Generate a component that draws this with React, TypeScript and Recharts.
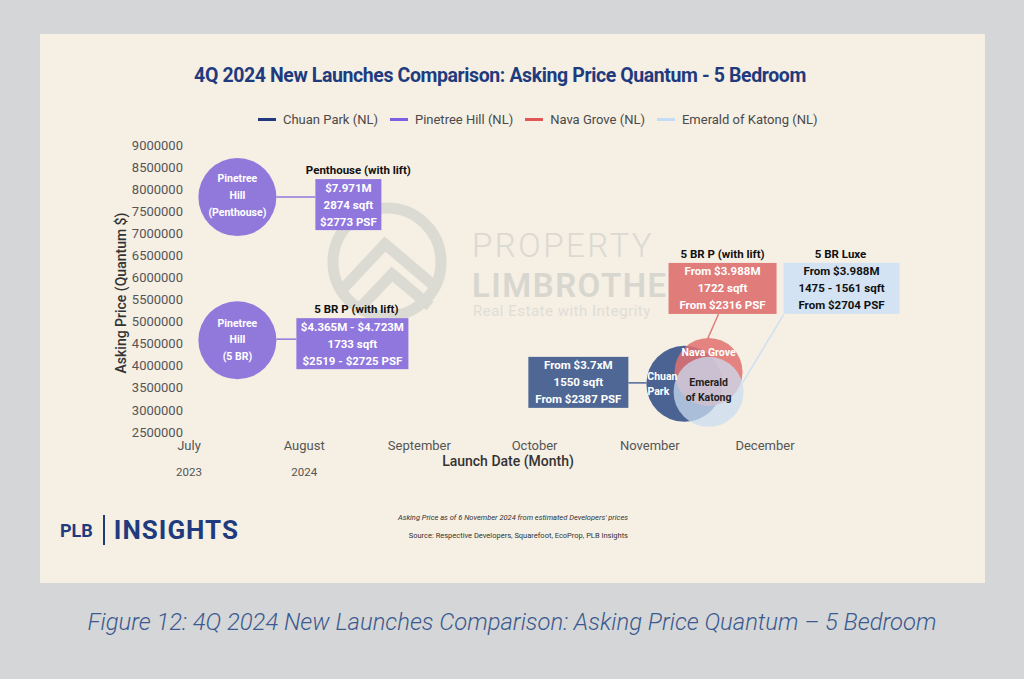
import React from "react";
import { ScatterChart, Scatter, XAxis, YAxis } from "recharts";

// --- data ---
const MONTHS = ["July", "August", "September", "October", "November", "December"];
const YEARS = ["2023", "2024", "", "", "", ""];
const X_TICKS = [0, 1, 2, 3, 4, 5];
const Y_TICKS = [
  2500000, 3000000, 3500000, 4000000, 4500000, 5000000, 5500000,
  6000000, 6500000, 7000000, 7500000, 8000000, 8500000, 9000000,
];

// x = months after July (category index), y = asking price quantum
const pinetreePenthouse = [{ x: 0.42, y: 7820000 }];
const pinetree5br = [{ x: 0.42, y: 4580000 }];
const chuanPark = [{ x: 4.3, y: 3590000 }];
const navaGrove = [{ x: 4.51, y: 3860000 }];
const emeraldKatong = [{ x: 4.51, y: 3410000 }];

const PH_LINES = ["$7.971M", "2874 sqft", "$2773 PSF"];
const BR5_LINES = ["$4.365M - $4.723M", "1733 sqft", "$2519 - $2725 PSF"];
const CHUAN_LINES = ["From $3.7xM", "1550 sqft", "From $2387 PSF"];
const NAVA_LINES = ["From $3.988M", "1722 sqft", "From $2316 PSF"];
const EMERALD_LINES = ["From $3.988M", "1475 - 1561 sqft", "From $2704 PSF"];

const LEGEND = [
  { name: "Chuan Park (NL)", color: "#1f3b7e" },
  { name: "Pinetree Hill (NL)", color: "#7c5fe3" },
  { name: "Nava Grove (NL)", color: "#e05656" },
  { name: "Emerald of Katong (NL)", color: "#c6dcf6" },
];

const PURPLE = "#9179dc";
const NAVY = "#1f3b7e";
const FONT = "Roboto, 'Noto Sans', sans-serif";

const bubble = (fill: string, r: number, opacity = 1) => (p: any) => (
  <circle cx={p.cx} cy={p.cy} r={r} fill={fill} fillOpacity={opacity} />
);

type CalloutCfg = {
  box: [number, number, number, number]; // dx, dy, w, h
  fill: string;
  color: string;
  lines: string[];
  title?: [string, number, number];
  link: [number, number, number, number];
  linkColor: string;
  labels: [string, number, number, string][];
};

const callout = (c: CalloutCfg) => (p: any) => {
  const { cx, cy } = p;
  const [bx, by, bw, bh] = c.box;
  const mid = cy + by + bh / 2;
  return (
    <g fontFamily={FONT}>
      <line
        x1={cx + c.link[0]} y1={cy + c.link[1]} x2={cx + c.link[2]} y2={cy + c.link[3]}
        stroke={c.linkColor} strokeWidth={1.5}
      />
      <rect x={cx + bx} y={cy + by} width={bw} height={bh} fill={c.fill} />
      {c.lines.map((t, i) => (
        <text
          key={i} x={cx + bx + bw / 2} y={mid + (i - 1) * 17}
          textAnchor="middle" dominantBaseline="central"
          fontSize={11.5} fontWeight={700} fill={c.color}
        >
          {t}
        </text>
      ))}
      {c.title && (
        <text
          x={cx + c.title[1]} y={cy + c.title[2]} textAnchor="middle" dominantBaseline="central"
          fontSize={11.5} fontWeight={700} fill="#111"
        >
          {c.title[0]}
        </text>
      )}
      {c.labels.map(([t, dx, dy, col], i) => (
        <text
          key={"l" + i} x={cx + dx} y={cy + dy} textAnchor="middle" dominantBaseline="central"
          fontSize={10.5} fontWeight={700} fill={col}
        >
          {t}
        </text>
      ))}
    </g>
  );
};

const MonthTick = (p: any) => {
  const i = p.payload.value as number;
  return (
    <g fontFamily={FONT} fontSize={13} fill="#555">
      <text x={p.x} y={p.y + 13} textAnchor="middle" dominantBaseline="central">{MONTHS[i]}</text>
      <text x={p.x} y={p.y + 40} textAnchor="middle" dominantBaseline="central" fontSize={11.5}>
        {YEARS[i]}
      </text>
    </g>
  );
};

const Watermark = () => (
  <svg width={945} height={549} style={{ position: "absolute", left: 0, top: 0 }}>
    <defs>
      <clipPath id="wm-clip">
        <rect x={0} y={0} width={628} height={549} />
      </clipPath>
    </defs>
    <g opacity={0.85} clipPath="url(#wm-clip)">
      <circle cx={347} cy={228} r={54} fill="none" stroke="#d8d8d1" strokeWidth={11} />
      <path d="M300 258 L345 210 L392 250" fill="none" stroke="#d8d8d1" strokeWidth={11} />
      <path d="M318 276 L352 240 L390 272" fill="none" stroke="#d8d8d1" strokeWidth={11} />
      <text x={432} y={211} fontFamily={FONT} fontSize={33} fontWeight={300} fill="#d6d6cf" dominantBaseline="central" letterSpacing={2.5}>
        PROPERTY
      </text>
      <text x={432} y={251} fontFamily={FONT} fontSize={33} fontWeight={600} fill="#d3d3cc" dominantBaseline="central" letterSpacing={1.5}>
        LIMBROTHE
      </text>
      <text x={433} y={277} fontFamily={FONT} fontSize={15} fill="#dcdcd4" dominantBaseline="central" letterSpacing={0.5}>
        Real Estate with Integrity
      </text>
    </g>
  </svg>
);

export default function App() {
  return (
    <div style={{ position: "absolute", left: 0, top: 0, width: 1024, height: 679, background: "#d5d6d8", fontFamily: FONT }}>
      <div style={{ position: "absolute", left: 40, top: 34, width: 945, height: 549, background: "#f5efe4" }}>
        <Watermark />

        <div style={{ position: "absolute", left: 110, top: 30, width: 700, textAlign: "center", color: NAVY, fontSize: 19.5, fontWeight: 700, letterSpacing: -0.4 }}>
          4Q 2024 New Launches Comparison: Asking Price Quantum - 5 Bedroom
        </div>

        <div style={{ position: "absolute", left: 218, top: 78, display: "flex", alignItems: "center", fontSize: 13, color: "#4a4a4a" }}>
          {LEGEND.map((l) => (
            <div key={l.name} style={{ display: "flex", alignItems: "center", marginRight: 12 }}>
              <span style={{ display: "inline-block", width: 18, height: 3, background: l.color, marginRight: 7 }} />
              {l.name}
            </div>
          ))}
        </div>

        <div style={{ position: "absolute", left: 0, top: 0 }}>
          <ScatterChart width={945} height={549} margin={{ top: 111, right: 220, bottom: 121, left: 69 }}>
            <XAxis
              type="number" dataKey="x" domain={[0, 5]} ticks={X_TICKS} interval={0}
              axisLine={false} tickLine={false} tickSize={0} tickMargin={0} height={30}
              tick={<MonthTick />}
            />
            <YAxis
              type="number" dataKey="y" domain={[2500000, 9000000]} ticks={Y_TICKS} interval={0}
              axisLine={false} tickLine={false} tickSize={4} tickMargin={2} width={80}
              tick={{ fontSize: 13, fill: "#555", fontFamily: FONT }}
            />
            <Scatter data={pinetreePenthouse} shape={bubble(PURPLE, 39)} isAnimationActive={false} />
            <Scatter data={pinetree5br} shape={bubble(PURPLE, 39)} isAnimationActive={false} />
            <Scatter data={chuanPark} shape={bubble("#4b6392", 38)} isAnimationActive={false} />
            <Scatter data={navaGrove} shape={bubble("#e27070", 34, 0.85)} isAnimationActive={false} />
            <Scatter data={emeraldKatong} shape={bubble("#cadcf0", 35, 0.75)} isAnimationActive={false} />

            <Scatter
              data={pinetreePenthouse} isAnimationActive={false}
              shape={callout({
                box: [78, -18, 66, 51], fill: "#8f77dd", color: "#fff", lines: PH_LINES,
                title: ["Penthouse (with lift)", 121, -27], link: [39, 0, 78, 0], linkColor: PURPLE,
                labels: [["Pinetree", 0, -19, "#fff"], ["Hill", 0, -2, "#fff"], ["(Penthouse)", 0, 15, "#fff"]],
              })}
            />
            <Scatter
              data={pinetree5br} isAnimationActive={false}
              shape={callout({
                box: [59, -22, 112, 51], fill: "#8f77dd", color: "#fff", lines: BR5_LINES,
                title: ["5 BR P (with lift)", 119, -31], link: [39, -1, 59, -1], linkColor: PURPLE,
                labels: [["Pinetree", 0, -17, "#fff"], ["Hill", 0, -1, "#fff"], ["(5 BR)", 0, 16, "#fff"]],
              })}
            />
            <Scatter
              data={chuanPark} isAnimationActive={false}
              shape={callout({
                box: [-156, -27, 100, 51], fill: "#4e6795", color: "#fff", lines: CHUAN_LINES,
                link: [-56, -1, -38, -1], linkColor: "#4e6795",
                labels: [["Chuan", -22, -7, "#fff"], ["Park", -26, 8, "#fff"]],
              })}
            />
            <Scatter
              data={navaGrove} isAnimationActive={false}
              shape={callout({
                box: [-40, -109, 108, 51], fill: "#e07c79", color: "#fff", lines: NAVA_LINES,
                title: ["5 BR P (with lift)", 14, -118], link: [10, -58, -1, -33], linkColor: "#e07c79",
                labels: [["Nava Grove", 0, -19, "#fff"]],
              })}
            />
            <Scatter
              data={emeraldKatong} isAnimationActive={false}
              shape={callout({
                box: [75, -129, 116, 51], fill: "#d3e3f3", color: "#111", lines: EMERALD_LINES,
                title: ["5 BR Luxe", 132, -138], link: [75, -77, 34, -9], linkColor: "#cfe0f2",
                labels: [["Emerald", 0, -9, "#222"], ["of Katong", 0, 6, "#222"]],
              })}
            />
          </ScatterChart>
        </div>

        <div style={{ position: "absolute", left: 81, top: 261, width: 0, height: 0 }}>
          <div style={{ position: "absolute", left: -90, top: -10, width: 180, textAlign: "center", transform: "rotate(-90deg)", fontSize: 14, color: "#333", fontWeight: 500 }}>
            Asking Price (Quantum $)
          </div>
        </div>
        <div style={{ position: "absolute", left: 368, top: 419, width: 200, textAlign: "center", fontSize: 14, color: "#333", fontWeight: 500 }}>
          Launch Date (Month)
        </div>

        <div style={{ position: "absolute", left: 20, top: 481, display: "flex", alignItems: "center", color: NAVY, fontWeight: 700 }}>
          <span style={{ fontSize: 18 }}>PLB</span>
          <span style={{ display: "inline-block", width: 2, height: 30, background: NAVY, margin: "0 9px 0 10px" }} />
          <span style={{ fontSize: 26, letterSpacing: 1 }}>INSIGHTS</span>
        </div>
        <div style={{ position: "absolute", left: 288, top: 475, width: 300, textAlign: "right", fontSize: 7.5, fontStyle: "italic", color: "#333", lineHeight: "18px" }}>
          Asking Price as of 6 November 2024 from estimated Developers' prices
          <div style={{ fontStyle: "normal" }}>Source: Respective Developers, Squarefoot, EcoProp, PLB Insights</div>
        </div>
      </div>

      <div style={{ position: "absolute", left: 0, top: 608, width: 1024, textAlign: "center", fontSize: 23.8, fontStyle: "italic", fontWeight: 300, color: "#3b5a8f" }}>
        Figure 12: 4Q 2024 New Launches Comparison: Asking Price Quantum – 5 Bedroom
      </div>
    </div>
  );
}
